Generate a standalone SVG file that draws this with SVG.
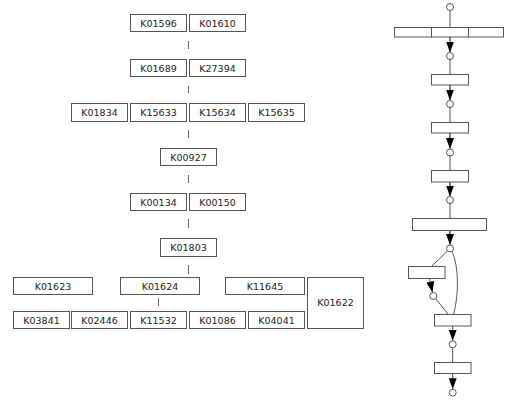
<svg xmlns="http://www.w3.org/2000/svg" width="509" height="400" viewBox="0 0 509 400">
<style>
.b{fill:#fff;stroke:#555;stroke-width:1}
.t{font-family:"DejaVu Sans",Verdana,sans-serif;font-size:9.5px;fill:#222;text-anchor:middle}
.c{stroke:#666;stroke-width:1;fill:none}
.p{stroke:#555;stroke-width:1;fill:none}
.o{fill:#fff;stroke:#555;stroke-width:1}
.a{stroke:#555;stroke-width:1;fill:none;marker-end:url(#ah)}
</style>
<defs>
<marker id="ah" markerUnits="userSpaceOnUse" markerWidth="11" markerHeight="8" viewBox="0 0 11 8" refX="11" refY="4" orient="auto">
<path d="M0,0 L11,4 L0,8 z" fill="#000"/>
</marker>
</defs>
<rect width="509" height="400" fill="#fff"/>
<g id="connectors">
<path class="c" d="M188.5,41V49 M188.5,86V93 M188.5,130V138 M188.5,175V183 M188.5,219V228 M188.5,265V274 M158.5,298V306"/>
<path class="p" d="M450,10.5V27.5 M450,37V41 M450,59.5V74.5 M450,85V90 M450,107.5V122.5 M450,133V138 M450,156V170.5 M450,182V186 M450,203.5V235 M447.5,251 L431.5,266.5 M436,299 L448.3,314.5 M452.7,347.8V362.5"/>
<path class="p" d="M452,251.5 C459,266 459,295 453.5,314.5"/>
<line class="a" x1="450" y1="37" x2="450" y2="52.5"/>
<line class="a" x1="450" y1="85" x2="450" y2="100.5"/>
<line class="a" x1="450" y1="133" x2="450" y2="149"/>
<line class="a" x1="450" y1="182" x2="450" y2="196.5"/>
<line class="a" x1="450" y1="230" x2="450" y2="245"/>
<line class="a" x1="429.5" y1="278.5" x2="432.5" y2="292.5"/>
<line class="a" x1="452.7" y1="326" x2="452.7" y2="340.8"/>
<line class="a" x1="452.7" y1="373.5" x2="452.7" y2="389.2"/>
</g>
<g id="n-K01596"><rect class="b" x="130.5" y="14.5" width="56" height="17"/><text class="t" x="158.5" y="26.5">K01596</text></g>
<g id="n-K01610"><rect class="b" x="189.5" y="14.5" width="56" height="17"/><text class="t" x="217.5" y="26.5">K01610</text></g>
<g id="n-K01689"><rect class="b" x="130.5" y="59.5" width="56" height="17"/><text class="t" x="158.5" y="71.5">K01689</text></g>
<g id="n-K27394"><rect class="b" x="189.5" y="59.5" width="56" height="17"/><text class="t" x="217.5" y="71.5">K27394</text></g>
<g id="n-K01834"><rect class="b" x="71.5" y="103.5" width="56" height="18"/><text class="t" x="99.5" y="116">K01834</text></g>
<g id="n-K15633"><rect class="b" x="130.5" y="103.5" width="56" height="18"/><text class="t" x="158.5" y="116">K15633</text></g>
<g id="n-K15634"><rect class="b" x="189.5" y="103.5" width="56" height="18"/><text class="t" x="217.5" y="116">K15634</text></g>
<g id="n-K15635"><rect class="b" x="248.5" y="103.5" width="56" height="18"/><text class="t" x="276.5" y="116">K15635</text></g>
<g id="n-K00927"><rect class="b" x="160.5" y="148.5" width="56" height="17"/><text class="t" x="188.5" y="160.5">K00927</text></g>
<g id="n-K00134"><rect class="b" x="130.5" y="193.5" width="56" height="17"/><text class="t" x="158.5" y="205.5">K00134</text></g>
<g id="n-K00150"><rect class="b" x="189.5" y="193.5" width="56" height="17"/><text class="t" x="217.5" y="205.5">K00150</text></g>
<g id="n-K01803"><rect class="b" x="160.5" y="238.5" width="56" height="18"/><text class="t" x="188.5" y="251">K01803</text></g>
<g id="n-K01623"><rect class="b" x="13.5" y="277.5" width="79" height="17"/><text class="t" x="53" y="289.5">K01623</text></g>
<g id="n-K01624"><rect class="b" x="120.5" y="277.5" width="79" height="17"/><text class="t" x="160" y="289.5">K01624</text></g>
<g id="n-K11645"><rect class="b" x="225.5" y="277.5" width="79" height="17"/><text class="t" x="265" y="289.5">K11645</text></g>
<g id="n-K01622"><rect class="b" x="307.5" y="277.5" width="56" height="51"/><text class="t" x="335.5" y="306">K01622</text></g>
<g id="n-K03841"><rect class="b" x="13.5" y="311.5" width="56" height="17"/><text class="t" x="41.5" y="323.5">K03841</text></g>
<g id="n-K02446"><rect class="b" x="71.5" y="311.5" width="56" height="17"/><text class="t" x="99.5" y="323.5">K02446</text></g>
<g id="n-K11532"><rect class="b" x="130.5" y="311.5" width="56" height="17"/><text class="t" x="158.5" y="323.5">K11532</text></g>
<g id="n-K01086"><rect class="b" x="189.5" y="311.5" width="56" height="17"/><text class="t" x="217.5" y="323.5">K01086</text></g>
<g id="n-K04041"><rect class="b" x="248.5" y="311.5" width="56" height="17"/><text class="t" x="276.5" y="323.5">K04041</text></g>
<g id="pathway">
<g id="r1"><rect class="b" x="394.5" y="27.5" width="37" height="9.5"/><rect class="b" x="431.5" y="27.5" width="37" height="9.5"/><rect class="b" x="468.5" y="27.5" width="35" height="9.5"/></g>
<g id="r2"><rect class="b" x="431.5" y="74.5" width="37" height="10.5"/></g>
<g id="r3"><rect class="b" x="431.5" y="122.5" width="37" height="10.5"/></g>
<g id="r4"><rect class="b" x="431.5" y="170.5" width="37" height="11.5"/></g>
<g id="r5"><rect class="b" x="412.5" y="218.5" width="74" height="12" fill="none"/></g>
<g id="r6"><rect class="b" x="408.5" y="266.5" width="36.5" height="12"/></g>
<g id="r7"><rect class="b" x="434.5" y="314.5" width="36.5" height="11.5"/></g>
<g id="r8"><rect class="b" x="434.5" y="362.5" width="36.5" height="11"/></g>
<g id="cpds">
<circle class="o" cx="450" cy="7" r="3.5"/>
<circle class="o" cx="450" cy="56" r="3.5"/>
<circle class="o" cx="450" cy="104" r="3.5"/>
<circle class="o" cx="450" cy="152.5" r="3.5"/>
<circle class="o" cx="450" cy="200" r="3.5"/>
<circle class="o" cx="450" cy="248.5" r="3.5"/>
<circle class="o" cx="433.3" cy="296" r="3.5"/>
<circle class="o" cx="452.7" cy="344.3" r="3.5"/>
<circle class="o" cx="452.7" cy="392.7" r="3.5"/>
</g>
</g>
</svg>
